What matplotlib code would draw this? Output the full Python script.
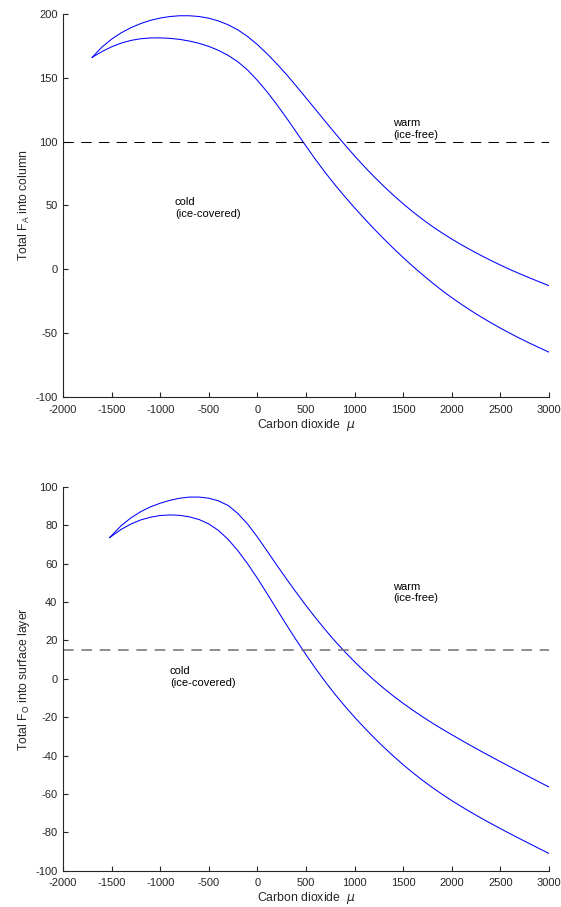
import numpy as np
import matplotlib
matplotlib.use('Agg')
import matplotlib.pyplot as plt

plt.rcParams['font.family'] = ['Liberation Sans', 'DejaVu Sans']
plt.rcParams['mathtext.fontset'] = 'dejavusans'
plt.rcParams['axes.unicode_minus'] = False

# carbon dioxide grid for the two branches of each hysteresis loop
mu_atm = [-1700, -1600, -1500, -1400, -1300, -1200, -1100, -1000, -900, -800,
          -700, -600, -500, -400, -300, -200, -100, 0, 100, 200,
          300, 400, 500, 600, 700, 800, 900, 1000, 1100, 1200,
          1300, 1400, 1500, 1600, 1700, 1800, 1900, 2000, 2100, 2200,
          2300, 2400, 2500, 2600, 2700, 2800, 2900, 3000]

# total F_A into column, warm (upper) and cold (lower) branch
fa_warm = [166, 174, 180.3, 185.3, 189.3, 192.5, 195, 196.8, 198, 198.6,
           198.6, 198, 196.7, 194.5, 191.5, 187.5, 182.3, 176, 168.8, 160.9,
           152.5, 143.5, 134.3, 125, 115.7, 106.5, 97.5, 88.8, 80.5, 72.6,
           65.1, 58, 51.3, 45, 39.1, 33.6, 28.5, 23.7, 19.2, 14.95,
           10.9, 7.05, 3.35, -0.2, -3.5, -6.7, -9.8, -12.8]
fa_cold = [166, 170.5, 174.3, 177.2, 179.3, 180.6, 181.2, 181.3, 180.9, 180.1,
           178.8, 177, 174.6, 171.5, 167.5, 162.5, 156, 148, 139, 129,
           118.5, 107.5, 96.5, 85.8, 75.6, 66, 56.9, 48.2, 39.8, 31.7,
           23.9, 16.4, 9.2, 2.3, -4.3, -10.6, -16.6, -22.2, -27.5, -32.5,
           -37.25, -41.75, -46.05, -50.15, -54.05, -57.8, -61.4, -64.9]

mu_ocn = [-1520, -1400, -1300, -1200, -1100, -1000, -900, -800,
          -700, -600, -500, -400, -300, -200, -100, 0, 100, 200,
          300, 400, 500, 600, 700, 800, 900, 1000, 1100, 1200,
          1300, 1400, 1500, 1600, 1700, 1800, 1900, 2000, 2100, 2200,
          2300, 2400, 2500, 2600, 2700, 2800, 2900, 3000]

# total F_O into surface layer
fo_warm = [73.5, 79.8, 83.8, 87, 89.5, 91.4, 92.9, 94,
           94.6, 94.6, 94, 92.6, 90.2, 86, 80.5, 73.8, 66.5, 59.1,
           51.9, 44.9, 38.1, 31.6, 25.4, 19.5, 14, 8.8, 3.9, -0.7,
           -5, -9.05, -12.85, -16.45, -19.85, -23.1, -26.2, -29.15, -32.1, -34.95,
           -37.75, -40.5, -43.2, -45.88, -48.54, -51.18, -53.8, -56.4]
fo_cold = [73.5, 77.8, 80.6, 82.7, 84.1, 85, 85.3, 85.1,
           84.3, 82.9, 80.6, 77.2, 72.5, 66.6, 59.8, 52.3, 44.3, 36.1,
           28, 20.1, 12.5, 5.2, -1.7, -8.2, -14.3, -20.05, -25.5, -30.7,
           -35.65, -40.35, -44.8, -49, -52.95, -56.67, -60.17, -63.49, -66.64, -69.64,
           -72.54, -75.34, -78.06, -80.72, -83.34, -85.92, -88.47, -91]

fa_threshold = 100
fo_threshold = 15

axcol = '#262626'

fig = plt.figure(figsize=(5.61, 9.07), dpi=100)
ax1 = fig.add_axes([0.1123, 0.5623, 0.8663, 0.4223])
ax2 = fig.add_axes([0.1123, 0.0400, 0.8663, 0.4234])


def style_axes(ax, ylim, yticks, ylabel):
    ax.set_xlim(-2000, 3000)
    ax.set_ylim(*ylim)
    ax.set_xticks(np.arange(-2000, 3001, 500))
    ax.set_yticks(yticks)
    for side in ['top', 'right']:
        ax.spines[side].set_visible(False)
    for side in ['left', 'bottom']:
        ax.spines[side].set_color(axcol)
        ax.spines[side].set_linewidth(0.8)
    ax.tick_params(direction='in', length=3.4, width=0.8, color=axcol,
                   labelcolor=axcol, labelsize=8)
    ax.tick_params(axis='x', pad=5.5)
    ax.tick_params(axis='y', pad=4)
    ax.set_xlabel('Carbon dioxide  $\\mu$', fontsize=8.8, color=axcol, labelpad=1.5)
    ax.set_ylabel(ylabel, fontsize=8.8, color=axcol)
    ax.yaxis.set_label_coords(-0.064, 0.5)


# atmosphere
ax1.plot(mu_atm, fa_warm, color='blue', lw=0.75)
ax1.plot(mu_atm, fa_cold, color='blue', lw=0.75)
ax1.plot([-2000, 3000], [fa_threshold, fa_threshold], color='black', lw=0.75,
         dashes=(10, 7))
ax1.text(1400, 110, 'warm\n(ice-free)', fontsize=8, va='center', ha='left')
ax1.text(-850, 48, 'cold\n(ice-covered)', fontsize=8, va='center', ha='left')
style_axes(ax1, (-100, 200), np.arange(-100, 201, 50), 'Total F$_\\mathregular{A}$ into column')

# ocean surface layer
ax2.plot(mu_ocn, fo_warm, color='blue', lw=0.75)
ax2.plot(mu_ocn, fo_cold, color='blue', lw=0.75)
ax2.plot([-2000, 3000], [fo_threshold, fo_threshold], color='#707070', lw=1.1,
         dashes=(7, 5))
ax2.text(1400, 45, 'warm\n(ice-free)', fontsize=8, va='center', ha='left')
ax2.text(-900, 1, 'cold\n(ice-covered)', fontsize=8, va='center', ha='left')
style_axes(ax2, (-100, 100), np.arange(-100, 101, 20), 'Total F$_\\mathregular{O}$ into surface layer')

fig.savefig('out.png', dpi=100)
